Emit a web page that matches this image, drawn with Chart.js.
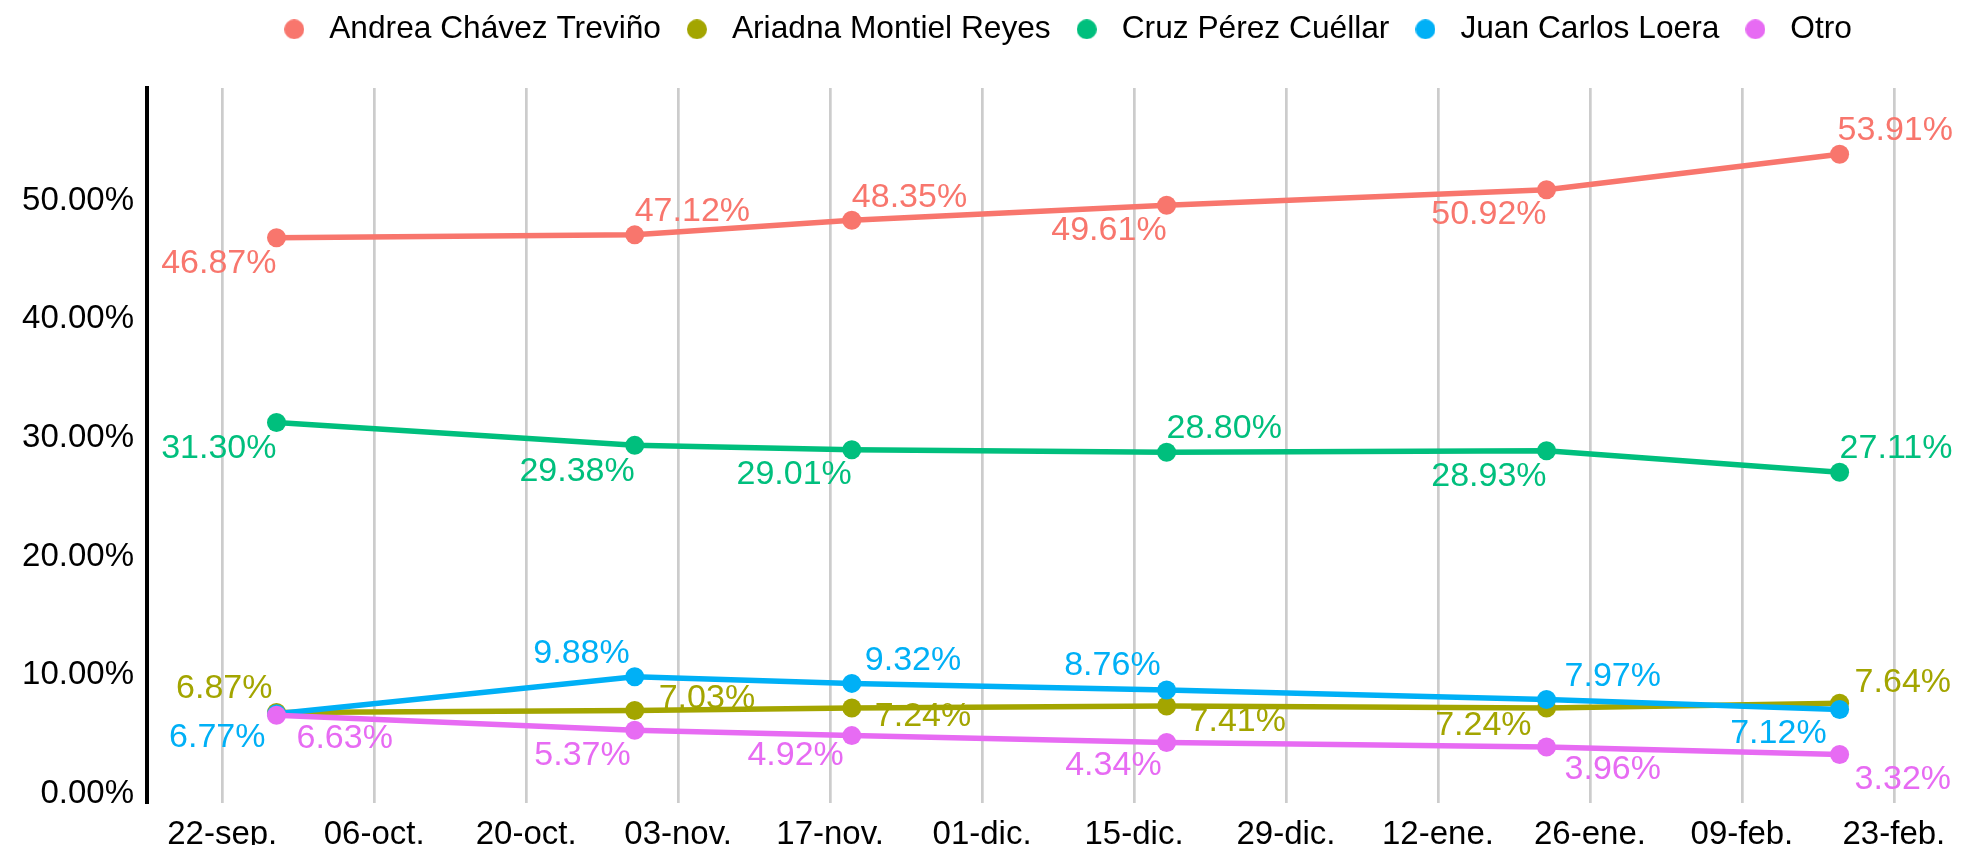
<!DOCTYPE html>
<html>
<head>
<meta charset="utf-8">
<script src="https://cdn.jsdelivr.net/npm/chart.js@4.4.1/dist/chart.umd.min.js"></script>
<style>
  html, body { margin: 0; padding: 0; background: #fff; }
  #wrap { width: 1967px; height: 845px; }
</style>
</head>
<body>
<div id="wrap"><canvas id="pollChart"></canvas></div>
<script>
// ----------------- Data -----------------
const candidates = ['Andrea Chávez Treviño', 'Ariadna Montiel Reyes', 'Cruz Pérez Cuéllar', 'Juan Carlos Loera', 'Otro'];
const surveyDates = ['2025-09-27', '2025-10-30', '2025-11-19', '2025-12-18', '2026-01-22', '2026-02-18'];
const andrea = [46.87, 47.12, 48.35, 49.61, 50.92, 53.91];
const ariadna = [6.87, 7.03, 7.24, 7.41, 7.24, 7.64];
const cruz = [31.30, 29.38, 29.01, 28.80, 28.93, 27.11];
const juan = [6.77, 9.88, 9.32, 8.76, 7.97, 7.12];
const otro = [6.63, 5.37, 4.92, 4.34, 3.96, 3.32];

const xTickDates = ['2025-09-22', '2025-10-06', '2025-10-20', '2025-11-03', '2025-11-17', '2025-12-01',
                    '2025-12-15', '2025-12-29', '2026-01-12', '2026-01-26', '2026-02-09', '2026-02-23'];
const xTickLabels = ['22-sep.', '06-oct.', '20-oct.', '03-nov.', '17-nov.', '01-dic.',
                     '15-dic.', '29-dic.', '12-ene.', '26-ene.', '09-feb.', '23-feb.'];
const yTicks = [0, 10, 20, 30, 40, 50];

// ----------------- Styles -----------------
const colors = ['#F8766D', '#A3A500', '#00BF7D', '#00B0F6', '#E76BF3'];
const FONT = "'Liberation Sans', Arial, sans-serif";

// label placement per point: [align, dx, dy]
const andreaLabelPos = [['right', 0, 26], ['left', 0, -23], ['left', 0, -23], ['right', 0, 25], ['right', 0, 25], ['left', -2, -24]];
const ariadnaLabelPos = [['right', -4, -24], ['left', 24, -12], ['left', 23, 9], ['left', 23, 16], ['right', -15, 18], ['left', 15, -21]];
const cruzLabelPos = [['right', 0, 26], ['right', 0, 26], ['right', 0, 25], ['left', 0, -24], ['right', 0, 26], ['left', 0, -24]];
const juanLabelPos = [['right', -11, 24], ['right', -5, -23], ['left', 13, -23], ['right', -6, -24], ['left', 18, -23], ['right', -13, 24]];
const otroLabelPos = [['left', 20, 23], ['right', -4, 25], ['right', -8, 20], ['right', -5, 23], ['left', 18, 23], ['left', 15, 25]];

// ----------------- Helpers -----------------
const dayMs = 86400000;
const origin = Date.parse(xTickDates[0]);
const toDay = d => (Date.parse(d) - origin) / dayMs;
const xDays = surveyDates.map(toDay);
const tickDays = xTickDates.map(toDay);

function makeDot(color) {
  const c = document.createElement('canvas');
  c.width = 20; c.height = 20;
  const g = c.getContext('2d');
  g.fillStyle = color;
  g.beginPath();
  g.arc(10, 10, 10, 0, Math.PI * 2);
  g.fill();
  return c;
}
const legendDots = colors.map(makeDot);

const seriesValues = [andrea, ariadna, cruz, juan, otro];
const seriesLabelPos = [andreaLabelPos, ariadnaLabelPos, cruzLabelPos, juanLabelPos, otroLabelPos];

const datasets = candidates.map((name, i) => ({
  label: name,
  data: seriesValues[i].map((v, j) => ({ x: xDays[j], y: v })),
  borderColor: colors[i],
  backgroundColor: colors[i],
  pointBackgroundColor: colors[i],
  pointBorderWidth: 0,
  pointRadius: 9.5,
  borderWidth: 5.5,
  tension: 0,
  order: candidates.length - i,
  labelPos: seriesLabelPos[i]
}));

// ----------------- Plugins -----------------
const pointLabels = {
  id: 'pointLabels',
  beforeDatasetsDraw(chart) {
    const ctx = chart.ctx;
    ctx.save();
    ctx.font = '34px ' + FONT;
    ctx.textBaseline = 'middle';
    chart.data.datasets.forEach((ds, i) => {
      const meta = chart.getDatasetMeta(i);
      meta.data.forEach((pt, j) => {
        const [align, dx, dy] = ds.labelPos[j];
        ctx.fillStyle = ds.borderColor;
        ctx.textAlign = align;
        ctx.fillText(ds.data[j].y.toFixed(2) + '%', pt.x + dx, pt.y + dy);
      });
    });
    ctx.restore();
  }
};

// legend sits off-centre and has extra room below it
const legendSpacer = {
  id: 'legendSpacer',
  beforeInit(chart) {
    const fit = chart.legend.fit;
    chart.legend.fit = function () {
      fit.call(this);
      this.height += 32.8;
    };
  },
  afterLayout(chart) {
    chart.legend.left += 80;
    chart.legend.right += 80;
  }
};

// ----------------- Chart -----------------
const ctx = document.getElementById('pollChart').getContext('2d');
new Chart(ctx, {
  type: 'line',
  data: { datasets },
  options: {
    responsive: true,
    maintainAspectRatio: false,
    animation: false,
    layout: { padding: { top: -3.4, left: 0, right: 0, bottom: 0 } },
    plugins: {
      legend: {
        position: 'top',
        align: 'center',
        labels: {
          usePointStyle: true,
          pointStyleWidth: 38.3,
          boxHeight: 20,
          padding: 16.85,
          color: '#000',
          font: { family: FONT, size: 31.7 },
          generateLabels: chart => chart.data.datasets.map((ds, i) => ({
            text: ds.label,
            fillStyle: ds.borderColor,
            strokeStyle: ds.borderColor,
            lineWidth: 0,
            pointStyle: legendDots[i],
            datasetIndex: i,
            hidden: false
          }))
        }
      },
      tooltip: { enabled: false }
    },
    scales: {
      x: {
        type: 'linear',
        min: -6.93,
        max: 159.86,
        afterBuildTicks: scale => { scale.ticks = tickDays.map(v => ({ value: v })); },
        afterFit: scale => { scale.height = 42; },
        ticks: {
          padding: 12,
          color: '#000',
          font: { family: FONT, size: 33 },
          maxRotation: 0,
          autoSkip: false,
          callback: value => xTickLabels[tickDays.indexOf(value)]
        },
        grid: { color: '#cccccc', lineWidth: 2.7, drawTicks: false },
        border: { display: false }
      },
      y: {
        min: -0.76,
        max: 59.5,
        afterBuildTicks: scale => { scale.ticks = yTicks.map(v => ({ value: v })); },
        afterFit: scale => { scale.width = 147; },
        ticks: {
          padding: 13,
          color: '#000',
          font: { family: FONT, size: 33 },
          callback: value => value.toFixed(2) + '%'
        },
        grid: { display: false, drawTicks: false },
        border: { display: true, color: '#000', width: 4 }
      }
    }
  },
  plugins: [pointLabels, legendSpacer]
});
</script>
</body>
</html>
